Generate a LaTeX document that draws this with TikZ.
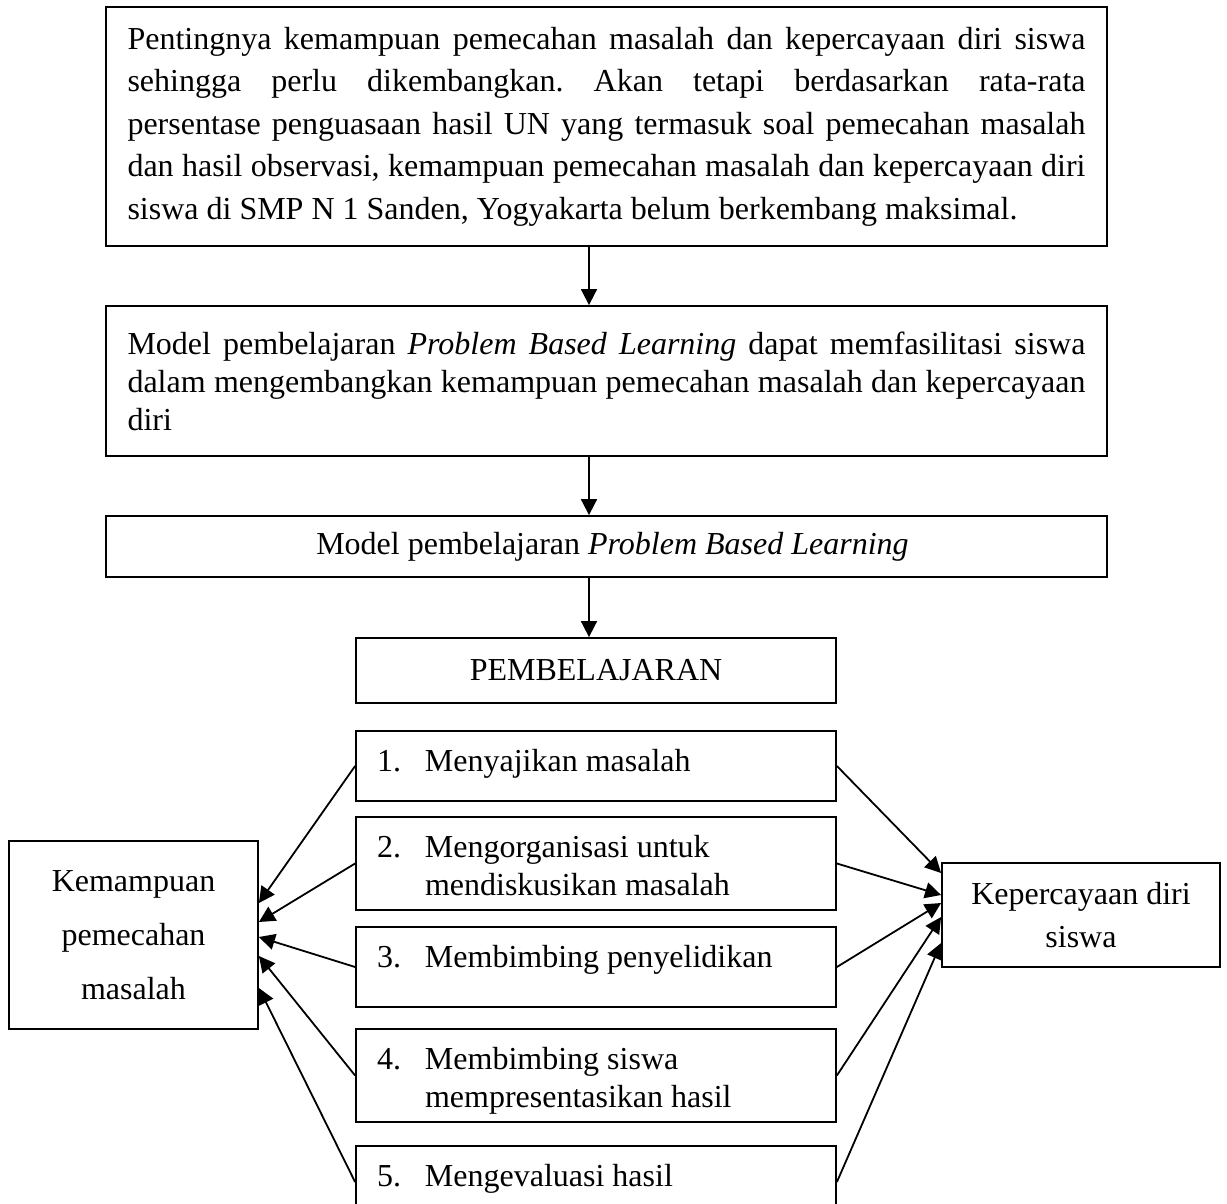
\documentclass[tikz,border=0pt]{standalone}
\usepackage{fontspec}
\setmainfont{Liberation Serif}
\usetikzlibrary{arrows.meta}
\frenchspacing
% text of a step box: first baseline 20pt under the top edge
\newcommand{\langkah}[3]{\parbox[c][#1][t]{240pt}{\rule{0pt}{20pt}\hspace*{10.5pt}\makebox[24pt][l]{#2.}\parbox[t]{200pt}{#3}}}
\newcommand{\baris}[1]{\makebox[479pt][s]{#1}}
\tikzset{
  kotak/.style={draw, line width=0.9pt, inner sep=0pt, align=center},
  panah/.style={->, line width=0.9pt},
}
\begin{document}
\begin{tikzpicture}[x=0.5pt, y=-0.5pt, font=\fontsize{16pt}{19pt}\selectfont, >={Triangle[length=8pt,width=8pt]}]
    \useasboundingbox (0,0) rectangle (1227,1204);
    \clip (0,0) rectangle (1227,1204);
    \coordinate (ax) at (589,0);
    % alur atas
    \node[kotak, minimum width=500.5pt, minimum height=119.5pt, font=\fontsize{16pt}{21.25pt}\selectfont] (latar) at (606.5,126.5)
        {\parbox{479pt}{\baris{Pentingnya kemampuan pemecahan masalah dan kepercayaan diri siswa}\\
        \baris{sehingga perlu dikembangkan. Akan tetapi berdasarkan rata-rata}\\
        \baris{persentase penguasaan hasil UN yang termasuk soal pemecahan masalah}\\
        \baris{dan hasil observasi, kemampuan pemecahan masalah dan kepercayaan diri}\\
        siswa di SMP N 1 Sanden, Yogyakarta belum berkembang maksimal.}};
    \node[kotak, minimum width=500.5pt, minimum height=75pt] (pbl) at (606.5,381)
        {\parbox{479pt}{\baris{Model pembelajaran \textit{Problem Based Learning} dapat memfasilitasi siswa}\\
        \baris{dalam mengembangkan kemampuan pemecahan masalah dan kepercayaan}\\
        diri}};
    \node[kotak, minimum width=500.5pt, minimum height=30.5pt] (model) at (606.5,546.5)
        {\hspace*{6pt}Model pembelajaran \textit{Problem Based Learning}};
    \node[kotak, minimum width=240pt, minimum height=32.5pt] (pemb) at (596,670.5) {PEMBELAJARAN};
    \draw[panah] (latar.south -| ax) -- (pbl.north -| ax);
    \draw[panah] (pbl.south -| ax) -- (model.north -| ax);
    \draw[panah] (model.south -| ax) -- (pemb.north -| ax);
    % langkah-langkah PBL
    \node[kotak] (s1) at (596,766) {\langkah{35pt}{1}{Menyajikan masalah}};
    \node[kotak] (s2) at (596,863.5) {\langkah{46.5pt}{2}{Mengorganisasi untuk\\ mendiskusikan masalah}};
    \node[kotak] (s3) at (596,967) {\langkah{40pt}{3}{Membimbing penyelidikan}};
    \node[kotak] (s4) at (596,1075.5) {\langkah{46.5pt}{4}{Membimbing siswa\\ mempresentasikan hasil}};
    \node[kotak] (s5) at (596,1182) {\langkah{36pt}{5}{Mengevaluasi hasil}};
    % hasil
    \node[kotak, minimum width=124.5pt, minimum height=94pt, font=\fontsize{16pt}{27pt}\selectfont] (kmp) at (133.5,935)
        {Kemampuan\\pemecahan\\masalah};
    \node[kotak, minimum width=139pt, minimum height=52pt, font=\fontsize{16pt}{21.5pt}\selectfont] (pd) at (1081,915)
        {Kepercayaan diri\\siswa};
    \foreach \i/\l/\r in {1/16/21, 2/6.5/10, 3/-1/6, 4/-10.5/-1, 5/-26.5/-14} {
        \draw[panah] (s\i.west) -- ([yshift=\l pt]kmp.east);
        \draw[panah] (s\i.east) -- ([yshift=\r pt]pd.west);
    }
\end{tikzpicture}
\end{document}
